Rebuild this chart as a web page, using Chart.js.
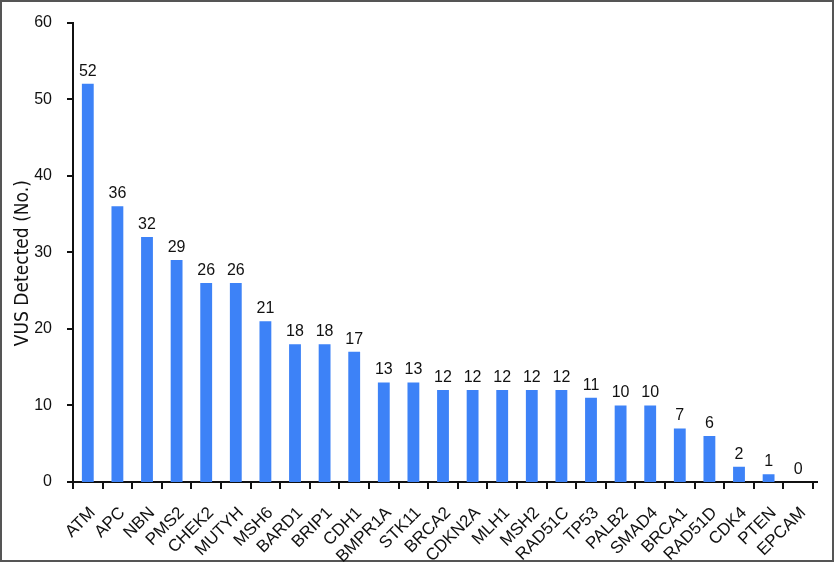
<!DOCTYPE html>
<html>
<head>
<meta charset="utf-8">
<script src="https://cdn.jsdelivr.net/npm/chart.js@4"></script>
<style>
  body { margin: 0; background: #fff; }
  canvas { display: block; }
</style>
</head>
<body>
<canvas id="vusChart" width="834" height="562"></canvas>
<script>
// DATA
let genes = ["ATM", "APC", "NBN", "PMS2", "CHEK2", "MUTYH", "MSH6", "BARD1", "BRIP1", "CDH1",
    "BMPR1A", "STK11", "BRCA2", "CDKN2A", "MLH1", "MSH2", "RAD51C", "TP53", "PALB2", "SMAD4",
    "BRCA1", "RAD51D", "CDK4", "PTEN", "EPCAM"];
let vusCounts = [52, 36, 32, 29, 26, 26, 21, 18, 18, 17, 13, 13, 12, 12, 12, 12, 12, 11, 10, 10, 7, 6, 2, 1, 0];
let yTicks = [0, 10, 20, 30, 40, 50, 60];

const FONT = "'Liberation Sans', Arial, sans-serif";
const NARROW = "'Liberation Sans Narrow', 'DejaVu Sans Condensed', 'Liberation Sans', sans-serif";

// white page + frame
let framePlugin = {
    id: "frame",
    beforeDraw(chart) {
        let ctx = chart.ctx;
        ctx.save();
        ctx.fillStyle = "#fff";
        ctx.fillRect(0, 0, chart.width, chart.height);
        ctx.strokeStyle = "#555";
        ctx.lineWidth = 2;
        ctx.strokeRect(1, 1, chart.width - 2, chart.height - 2);
        ctx.restore();
    }
};

// tick marks: outside the y axis at each value, below the x axis between categories
let tickMarks = {
    id: "tickMarks",
    afterDraw(chart) {
        let ctx = chart.ctx;
        let xs = chart.scales.x, ys = chart.scales.y;
        let left = chart.chartArea.left, bottom = chart.chartArea.bottom;
        ctx.save();
        ctx.strokeStyle = "#111";
        ctx.lineWidth = 2;
        ctx.beginPath();
        yTicks.forEach(v => {
            let y = Math.round(ys.getPixelForValue(v));
            ctx.moveTo(left - 6, y);
            ctx.lineTo(left, y);
        });
        let half = (xs.getPixelForValue(1) - xs.getPixelForValue(0)) / 2;
        for (let i = 0; i <= genes.length; i++) {
            let x = Math.round(i < genes.length ? xs.getPixelForValue(i) - half : xs.getPixelForValue(i - 1) + half);
            ctx.moveTo(x, bottom);
            ctx.lineTo(x, bottom + 7);
        }
        // baseline runs a little past the last tick
        ctx.moveTo(chart.chartArea.right, bottom);
        ctx.lineTo(chart.chartArea.right + 5, bottom);
        ctx.stroke();
        ctx.restore();
    }
};

// value labels above bars
let valueLabels = {
    id: "valueLabels",
    afterDatasetsDraw(chart) {
        let ctx = chart.ctx;
        let meta = chart.getDatasetMeta(0);
        ctx.save();
        ctx.fillStyle = "#111";
        ctx.font = "16px " + FONT;
        ctx.textAlign = "center";
        ctx.textBaseline = "alphabetic";
        meta.data.forEach((bar, i) => {
            ctx.fillText(vusCounts[i], bar.x, bar.y - 8);
        });
        ctx.restore();
    }
};

new Chart(document.getElementById("vusChart"), {
    type: "bar",
    data: {
        labels: genes,
        datasets: [{
            data: vusCounts,
            backgroundColor: "#3d82f7",
            barPercentage: 0.4,
            categoryPercentage: 1.0
        }]
    },
    options: {
        responsive: false,
        animation: false,
        layout: { padding: { left: 0, right: 21, top: 18, bottom: 0 } },
        plugins: { legend: { display: false }, tooltip: { enabled: false } },
        scales: {
            x: {
                grid: { display: false },
                border: { display: true, color: "#111", width: 2 },
                ticks: {
                    color: "#111",
                    font: { family: FONT, size: 17 },
                    maxRotation: 45,
                    minRotation: 45,
                    autoSkip: false,
                    padding: 13,
                    labelOffset: 5
                },
                afterFit(scale) { scale.height = 80; }
            },
            y: {
                min: 0,
                max: 60,
                ticks: { stepSize: 10, color: "#111", font: { family: FONT, size: 16 }, padding: 13 },
                grid: { display: false },
                border: { display: true, color: "#111", width: 2 },
                title: {
                    display: true,
                    // trailing spaces nudge the text down a little, like the original
                    text: "VUS Detected (No.)\u00a0\u00a0\u00a0\u00a0",
                    color: "#111",
                    font: { family: NARROW, size: 19 },
                    padding: { top: 12, bottom: 0 }
                },
                afterFit(scale) { scale.width = 73; }
            }
        }
    },
    plugins: [framePlugin, tickMarks, valueLabels]
});
</script>
</body>
</html>
